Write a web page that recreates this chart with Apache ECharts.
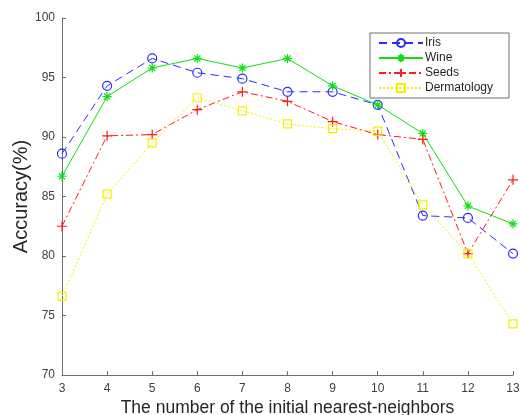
<!DOCTYPE html>
<html>
<head>
<meta charset="utf-8">
<script src="https://cdn.jsdelivr.net/npm/echarts@6/dist/echarts.min.js"></script>
<style>
  html, body { margin: 0; padding: 0; background: #fff; }
  #chart { width: 520px; height: 415px; }
</style>
</head>
<body>
<div id="chart"></div>
<script>
// Number of initial nearest neighbours (k)
const kValues = [3, 4, 5, 6, 7, 8, 9, 10, 11, 12, 13];

// Classification accuracy (%) per data set
const iris        = [88.6, 94.3, 96.6, 95.4, 94.9, 93.8, 93.8, 92.7, 83.4, 83.2, 80.2];
const wine        = [86.7, 93.4, 95.8, 96.6, 95.8, 96.6, 94.3, 92.7, 90.3, 84.2, 82.7];
const seeds       = [82.5, 90.1, 90.2, 92.3, 93.8, 93.0, 91.3, 90.2, 89.8, 80.2, 86.4];
const dermatology = [76.6, 85.2, 89.5, 93.3, 92.2, 91.1, 90.7, 90.5, 84.3, 80.2, 74.3];

const yTicks = [70, 75, 80, 85, 90, 95, 100];

const FONT = '"Liberation Sans", Arial, sans-serif';
const pairs = vals => kValues.map((k, i) => [k, vals[i]]);

const plusPath = 'path://M5,0L5,10M0,5L10,5';
const starPath = 'path://M5,0L5,10M0,5L10,5M1.6,1.6L8.4,8.4M8.4,1.6L1.6,8.4';

function makeSeries(name, vals, color, dash, symbol, size) {
  return {
    name: name,
    type: 'line',
    data: pairs(vals),
    symbol: symbol,
    symbolSize: size,
    showAllSymbol: true,
    lineStyle: { color: color, width: 1, type: dash },
    itemStyle: { color: 'rgba(0,0,0,0)', borderColor: color, borderWidth: 1.2 },
    emphasis: { disabled: true },
    animation: false
  };
}

const chart = echarts.init(document.getElementById('chart'), null, { renderer: 'canvas' });

chart.setOption({
  backgroundColor: '#ffffff',
  animation: false,
  grid: { left: 62, right: 7, top: 18, bottom: 40, outerBoundsMode: 'none', containLabel: false },
  xAxis: {
    type: 'value',
    min: kValues[0],
    max: kValues[kValues.length - 1],
    interval: 1,
    name: 'The number of the initial nearest-neighbors',
    nameLocation: 'middle',
    nameGap: 24,
    nameMoveOverlap: false,
    nameTextStyle: { fontFamily: FONT, fontSize: 17.5, color: '#262626' },
    axisLine: { lineStyle: { color: '#6f6f6f', width: 1 } },
    axisTick: { inside: true, length: 4, lineStyle: { color: '#6f6f6f' } },
    axisLabel: { fontFamily: FONT, fontSize: 12, color: '#404040', margin: 8 },
    splitLine: { show: false }
  },
  yAxis: {
    type: 'value',
    min: yTicks[0],
    max: yTicks[yTicks.length - 1],
    interval: 5,
    name: 'Accuracy(%)',
    nameLocation: 'middle',
    nameGap: 31,
    nameMoveOverlap: false,
    nameTextStyle: { fontFamily: FONT, fontSize: 20, color: '#262626' },
    axisLine: { show: true, lineStyle: { color: '#6f6f6f', width: 1 } },
    axisTick: { show: true, inside: true, length: 4, lineStyle: { color: '#6f6f6f' } },
    axisLabel: { fontFamily: FONT, fontSize: 12, color: '#404040', margin: 7 },
    splitLine: { show: false }
  },
  legend: {
    orient: 'vertical',
    left: 370,
    top: 33,
    width: 129,
    backgroundColor: '#ffffff',
    borderColor: '#6f6f6f',
    borderWidth: 1,
    padding: [4, 16, 4, 8],
    itemWidth: 44,
    itemHeight: 10,
    itemGap: 3,
    textStyle: { fontFamily: FONT, fontSize: 12, color: '#262626', padding: [0, 0, 0, -3] },
    data: ['Iris', 'Wine', 'Seeds', 'Dermatology']
  },
  series: [
    makeSeries('Iris', iris, '#2b2bff', [8, 5], 'circle', 9),
    makeSeries('Wine', wine, '#10e010', 'solid', starPath, 9),
    makeSeries('Seeds', seeds, '#ff1a1a', [7, 3, 2, 3], plusPath, 10),
    makeSeries('Dermatology', dermatology, '#f2f200', [2, 2], 'rect', 8)
  ]
});
</script>
</body>
</html>
